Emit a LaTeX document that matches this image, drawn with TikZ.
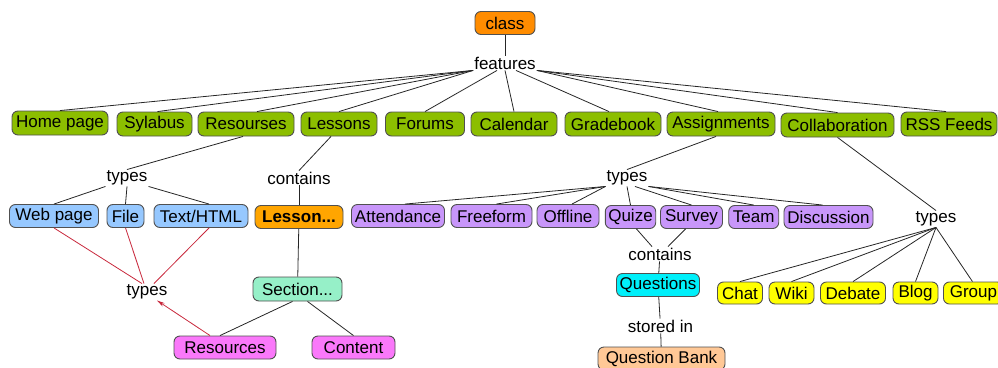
\documentclass[tikz,border=0pt]{standalone}
\usepackage{fontspec}
\setmainfont{Liberation Sans}
\usetikzlibrary{arrows.meta}
\definecolor{cgreen}{RGB}{140,190,0}
\definecolor{corange}{RGB}{255,140,0}
\definecolor{clorange}{RGB}{255,165,0}
\definecolor{cblue}{RGB}{150,200,255}
\definecolor{cpurple}{RGB}{200,150,250}
\definecolor{cmint}{RGB}{150,240,200}
\definecolor{cmagenta}{RGB}{250,120,250}
\definecolor{ccyan}{RGB}{0,240,250}
\definecolor{cyellow}{RGB}{255,255,0}
\definecolor{cpeach}{RGB}{255,200,150}
\definecolor{boxedge}{RGB}{80,80,80}
\definecolor{linkred}{RGB}{200,40,60}
\tikzset{
  box/.style={draw=boxedge, line width=0.9pt, rounded corners=6pt, minimum height=23pt,
    inner xsep=3pt, inner ysep=0pt, font=\fontsize{17}{18}\selectfont, text=black},
  gbox/.style={box, fill=cgreen, minimum height=24pt},
  obox/.style={box, fill=corange},
  bluebox/.style={box, fill=cblue},
  pbox/.style={box, fill=cpurple},
  mbox/.style={box, fill=cmint},
  magbox/.style={box, fill=cmagenta},
  cbox/.style={box, fill=ccyan},
  ybox/.style={box, fill=cyellow},
  peachbox/.style={box, fill=cpeach},
  lbl/.style={inner sep=1pt, font=\fontsize{17}{18}\selectfont},
  link/.style={draw=black!85, line width=0.8pt},
  rlink/.style={draw=linkred, line width=0.8pt},
}
\begin{document}
\begin{tikzpicture}[x=1pt,y=-1pt]
\useasboundingbox (0,0) rectangle (998,367);
\clip (0,0) rectangle (998,367);
% top
\node[obox, minimum width=60pt] (class) at (505,23) {class};
\node[lbl] (features) at (505,63) {features};
% row 1
\node[gbox, minimum width=96pt] (home) at (60,123) {Home page};
\node[gbox, minimum width=75pt] (syl) at (154.5,124) {Sylabus};
\node[gbox, minimum width=96pt] (resourses) at (246,124) {Resourses};
\node[gbox, minimum width=76pt] (lessons) at (339,124) {Lessons};
\node[gbox, minimum width=79pt] (forums) at (425,124) {Forums};
\node[gbox, minimum width=86pt] (calendar) at (514,124) {Calendar};
\node[gbox, minimum width=96pt] (grade) at (613,124) {Gradebook};
\node[gbox, minimum width=108pt] (assign) at (721,124) {Assignments};
\node[gbox, minimum width=113pt] (collab) at (837.5,125) {Collaboration};
\node[gbox, minimum width=96pt] (rss) at (949,124) {RSS Feeds};
% row 2
\node[lbl] (typesA) at (127,178) {types};
\node[lbl] (containsA) at (299,178) {contains};
\node[lbl] (typesB) at (627,178) {types};
\node[lbl] (typesC) at (936,219) {types};
\node[bluebox, minimum width=89pt] (web) at (54,216) {Web page};
\node[bluebox, minimum width=37pt] (file) at (125.5,216) {File};
\node[bluebox, minimum width=94pt] (text) at (201,216) {Text/HTML};
\node[box, fill=clorange, minimum width=88pt, font=\fontsize{17}{18}\selectfont\bfseries] (lesson) at (299,217) {Lesson...};
\node[pbox, minimum width=93pt] (attend) at (398,216) {Attendance};
\node[pbox, minimum width=81pt] (free) at (491.5,216) {Freeform};
\node[pbox, minimum width=62pt] (offline) at (568,216) {Offline};
\node[pbox, minimum width=50pt] (quize) at (630.5,217) {Quize};
\node[pbox, minimum width=62pt] (survey) at (691.5,217) {Survey};
\node[pbox, minimum width=50pt] (team) at (753.7,217) {Team};
\node[pbox, minimum width=89pt] (disc) at (828.5,217) {Discussion};
% row 3
\node[lbl] (typesD) at (147,292) {types};
\node[mbox, minimum width=89pt, minimum height=24pt] (section) at (297.5,289) {Section...};
\node[lbl] (containsB) at (660,254) {contains};
\node[cbox, minimum width=83pt] (questions) at (658,285) {Questions};
\node[ybox, minimum width=45pt, minimum height=22pt] (chat) at (740,293) {Chat};
\node[ybox, minimum width=45pt, minimum height=22pt] (wiki) at (791.5,293) {Wiki};
\node[ybox, minimum width=65pt, minimum height=22pt] (debate) at (853,293) {Debate};
\node[ybox, minimum width=45pt, minimum height=22pt] (blog) at (915.5,293) {Blog};
\node[ybox, minimum width=60pt, minimum height=22pt, anchor=west] (group) at (943,293) {Group};
% row 4
\node[magbox, minimum width=102pt] (resources) at (225,347.5) {Resources};
\node[magbox, minimum width=83pt] (content) at (353.5,347.5) {Content};
\node[lbl] (stored) at (660.5,326) {stored in};
\node[peachbox, minimum width=127pt] (qbank) at (661.5,358.5) {Question Bank};
% connectors
\draw[link] (class) -- (features);
\draw[link] (features.south west) -- (home.north);
\draw[link] (features.south west) -- ([xshift=3pt]syl.north);
\draw[link] (features.south west) -- ([xshift=11pt]resourses.north);
\draw[link] (features.south west) -- (lessons.north);
\draw[link] ([xshift=-8pt]features.south) -- (forums.north);
\draw[link] (features.south) -- (calendar.north);
\draw[link] ([xshift=11pt]features.south) -- ([xshift=-4pt]grade.north);
\draw[link] (features.south east) -- ([xshift=-3pt]assign.north);
\draw[link] (features.south east) -- (collab.north);
\draw[link] (features.south east) -- ([xshift=-3pt]rss.north);
\draw[link] ([xshift=-3pt]resourses.south) -- (typesA.north);
\draw[link] ([xshift=-8pt]lessons.south) -- (containsA.north);
\draw[link] ([xshift=-5pt]assign.south) -- (typesB.north);
\draw[link] (collab.south) -- (typesC.north);
\draw[link] (typesA.south west) -- (web.north);
\draw[link] (typesA.south) -- (file.north);
\draw[link] (typesA.south east) -- ([xshift=8pt]text.north);
\draw[link] (containsA) -- (lesson);
\draw[link] (lesson) -- (section);
\draw[rlink] (web.south) -- ([xshift=-5pt]typesD.north);
\draw[rlink] (file.south) -- ([xshift=-3pt]typesD.north);
\draw[rlink] ([xshift=8pt]text.south) -- ([xshift=7pt]typesD.north);
\draw[rlink, -{Stealth[length=8pt,width=4pt]}] ([xshift=-15pt]resources.north) -- ([xshift=10pt]typesD.south);
\draw[link] ([xshift=-5pt]section.south) -- ([xshift=-5pt]resources.north);
\draw[link] ([xshift=10pt]section.south) -- (content.north);
\draw[link] (typesB.south west) -- ([xshift=7pt]attend.north);
\draw[link] (typesB.south west) -- ([xshift=5pt]free.north);
\draw[link] (typesB.south west) -- ([xshift=4pt]offline.north);
\draw[link] (typesB.south) -- (quize.north);
\draw[link] ([xshift=8pt]typesB.south) -- (survey.north);
\draw[link] (typesB.south east) -- (team.north);
\draw[link] (typesB.south east) -- ([xshift=-6pt]disc.north);
\draw[link] ([xshift=6pt]quize.south) -- ([xshift=-8pt]containsB.north);
\draw[link] ([xshift=-6pt]survey.south) -- ([xshift=8pt]containsB.north);
\draw[link] (containsB) -- (questions);
\draw[link] (questions) -- (stored);
\draw[link] (stored) -- (qbank);
\draw[link] (typesC.south) -- (chat.north);
\draw[link] (typesC.south) -- (wiki.north);
\draw[link] (typesC.south) -- (debate.north);
\draw[link] (typesC.south) -- (blog.north);
\draw[link] (typesC.south) -- ([xshift=-1pt]group.north);
\end{tikzpicture}
\end{document}
